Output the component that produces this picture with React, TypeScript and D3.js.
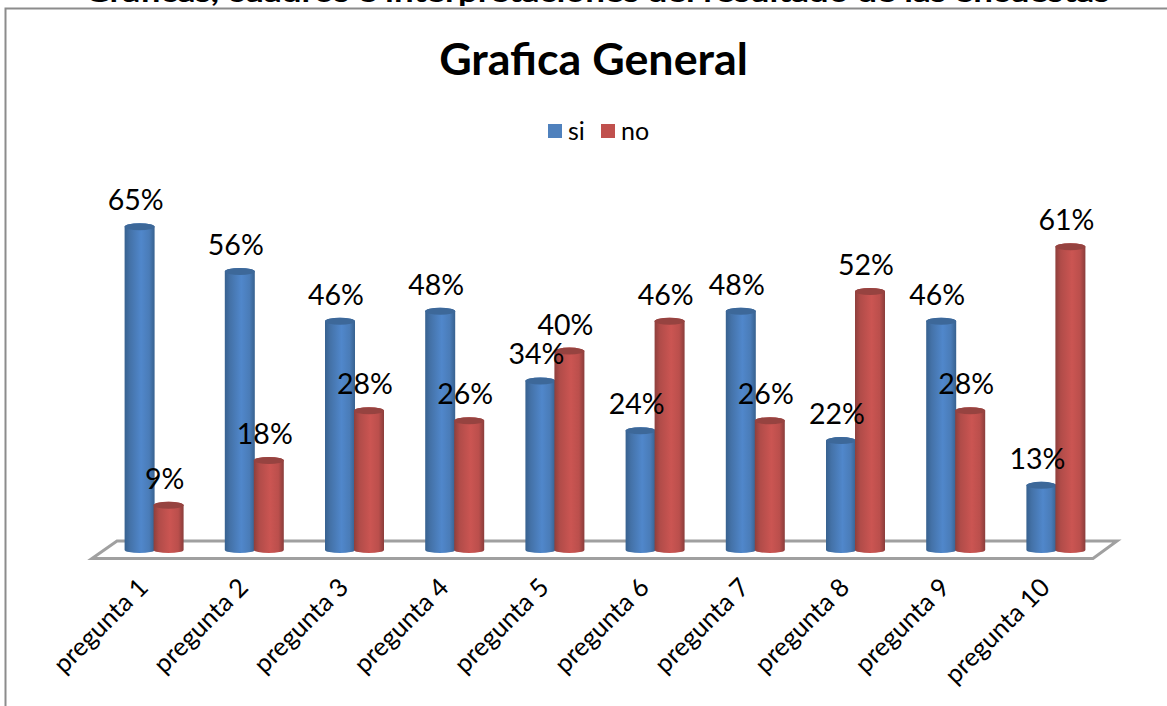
import React from "react";
import * as d3 from "d3";

const categories = ["pregunta 1","pregunta 2","pregunta 3","pregunta 4","pregunta 5","pregunta 6","pregunta 7","pregunta 8","pregunta 9","pregunta 10"];
const si = [65,56,46,48,34,24,48,22,46,13];
const no = [9,18,28,26,40,46,26,52,28,61];
const legendItems = [{label:"si",color:"#4f81bd"},{label:"no",color:"#c0504d"}];
const chartTitle = "Grafica General";
const clippedHeading = "Gráficas, cuadros e interpretaciones del resultado de las encuestas";

const W = 1167, H = 706;
const x = d3.scaleBand<string>().domain(categories).range([104.5, 1106.5]).paddingInner(0).paddingOuter(0);
const y = d3.scaleLinear().domain([0, 65]).range([550, 226.8]);
const barW = 30;
const font = "Lato, 'Open Sans', sans-serif";

function Cyl({cx, v, kind}: {cx:number; v:number; kind:"b"|"r"}) {
  const top = y(v), bot = y(0);
  const l = cx - barW/2, r = cx + barW/2;
  const d = `M${l},${top}L${l},${bot}A${barW/2},3 0 0 0 ${r},${bot}L${r},${top}A${barW/2},3.5 0 0 0 ${l},${top}Z`;
  return <g>
    <path d={d} fill={`url(#grad-${kind})`} />
    <ellipse cx={cx} cy={top} rx={barW/2} ry={3.5} fill={kind==="b"?"#3d6899":"#964340"} />
  </g>;
}

export default function App() {
  const band = x.bandwidth();
  return (
    <svg width={W} height={H} style={{position:"fixed",left:0,top:0,display:"block",background:"#fff"}}>
      <defs>
        <linearGradient id="grad-b" x1="0" x2="1" y1="0" y2="0">
          <stop offset="0" stopColor="#37618f"/>
          <stop offset="0.18" stopColor="#4472a8"/>
          <stop offset="0.55" stopColor="#5087cb"/>
          <stop offset="0.82" stopColor="#4a7cb8"/>
          <stop offset="1" stopColor="#37618f"/>
        </linearGradient>
        <linearGradient id="grad-r" x1="0" x2="1" y1="0" y2="0">
          <stop offset="0" stopColor="#8e3f3c"/>
          <stop offset="0.18" stopColor="#b14c49"/>
          <stop offset="0.55" stopColor="#cb5552"/>
          <stop offset="0.82" stopColor="#bb4f4c"/>
          <stop offset="1" stopColor="#8a3d3b"/>
        </linearGradient>
      </defs>
      <text x={597} y={1.5} textAnchor="middle" fontFamily={font} fontWeight="700" fontSize={26} textLength={1025} lengthAdjust="spacingAndGlyphs" fill="#000">{clippedHeading}</text>
      <path d={`M5.5,${H}L5.5,8.5H${W}`} fill="none" stroke="#8c8c8c" strokeWidth={2}/>
      <text x={593.5} y={75} textAnchor="middle" fontFamily={font} fontWeight="700" fontSize={44.8} fill="#000">{chartTitle}</text>
      {legendItems.map((it,i)=>{
        const lx = [548,601][i];
        return <g key={it.label}>
          <rect x={lx} y={124} width={14} height={14} fill={it.color}/>
          <text x={lx+20} y={140} fontFamily={font} fontSize={25} fill="#000">{it.label}</text>
        </g>;
      })}
      <path d="M92,558.5L117,541H1117L1093,558.5Z" fill="#fff" stroke="#a0a0a0" strokeWidth={3} strokeLinejoin="miter"/>
      {categories.map((c,i)=>{
        const cx = x(c)! + band/2;
        return <g key={c}>
          <Cyl cx={cx-15} v={si[i]} kind="b"/>
          <Cyl cx={cx+14} v={no[i]} kind="r"/>
        </g>;
      })}
      {categories.map((c,i)=>{
        const cx = x(c)! + band/2;
        return <g key={c} fontFamily={font} fontSize={28.5} fill="#000" textAnchor="middle">
          <text x={cx-19} y={y(si[i])-16.5}>{si[i]}%</text>
          <text x={cx+10} y={y(no[i])-16.5}>{no[i]}%</text>
        </g>;
      })}
      {categories.map(c=>{
        const cx = x(c)! + band/2;
        return <text key={c} transform={`translate(${cx-5},589) rotate(-45)`} textAnchor="end" fontFamily={font} fontSize={25.5} fill="#000">{c}</text>;
      })}
    </svg>
  );
}
